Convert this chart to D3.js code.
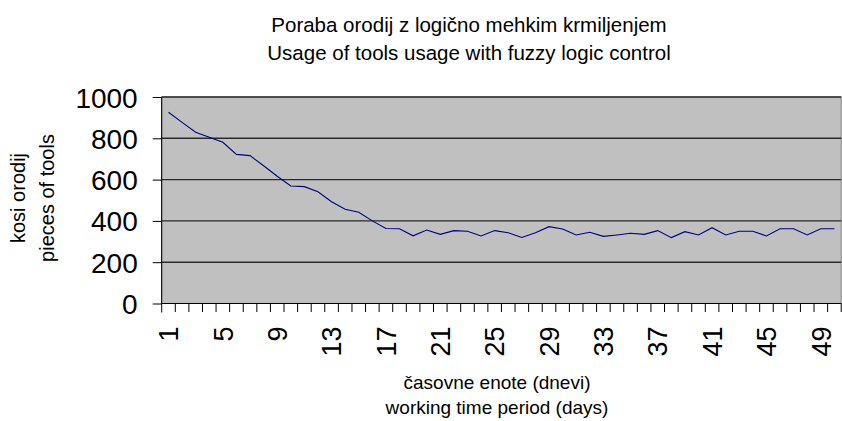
<!DOCTYPE html>
<html>
<head>
<meta charset="utf-8">
<script src="https://cdn.jsdelivr.net/npm/d3@7"></script>
<style>
    body { margin: 0; background: #fff; }
    svg text { font-family: "Liberation Sans", Arial, sans-serif; fill: #000; }
</style>
</head>
<body>
<div id="chart"></div>
<script>
// data
const days = d3.range(1, 51)
const tools = [926, 877, 829, 805, 781, 722, 716, 667, 616, 569,
    566, 541, 493, 456, 442, 400, 363, 362, 328, 356,
    335, 353, 350, 327, 353, 343, 320, 343, 372, 361,
    332, 345, 325, 332, 340, 335, 353, 319, 348, 332,
    367, 332, 350, 350, 327, 362, 362, 332, 362, 362]
const yTicks = [0, 200, 400, 600, 800, 1000]
const xLabelDays = d3.range(1, 51, 4)
const titleLines = ['Poraba orodij z logično mehkim krmiljenjem', 'Usage of tools usage with fuzzy logic control']
const xTitleLines = ['časovne enote (dnevi)', 'working time period (days)']
const yTitleLines = ['kosi orodij', 'pieces of tools']

const width = 842, height = 421
const margin = {top: 97, right: 0.8, bottom: 117.5, left: 161.7}
const plotW = width - margin.left - margin.right
const plotH = height - margin.top - margin.bottom

const svg = d3.select('#chart').append('svg')
    .attr('width', width)
    .attr('height', height)

const x = d3.scaleBand()
    .domain(days)
    .range([0, plotW])
    .paddingInner(0)
    .paddingOuter(0)
const y = d3.scaleLinear()
    .domain([0, 1000])
    .range([plotH, 0])

const g = svg.append('g')
    .attr('transform', `translate(${margin.left},${margin.top})`)

// plot background
g.append('rect')
    .attr('width', plotW)
    .attr('height', plotH)
    .attr('fill', '#c0c0c0')
    .attr('stroke', '#808080')
    .attr('stroke-width', 1)

// gridlines
g.append('g')
    .selectAll('line')
    .data(yTicks.filter(d => d > 0))
    .join('line')
    .attr('x1', 0)
    .attr('x2', plotW)
    .attr('y1', d => y(d))
    .attr('y2', d => y(d))
    .attr('stroke', '#2a2a2a')
    .attr('stroke-width', 1.4)

// data line
const line = d3.line()
    .x((d, i) => x(days[i]) + x.bandwidth() / 2)
    .y(d => y(d))
g.append('path')
    .datum(tools)
    .attr('fill', 'none')
    .attr('stroke', '#000080')
    .attr('stroke-width', 1.1)
    .attr('d', line)

// y axis
const yAxis = d3.axisLeft(y)
    .tickValues(yTicks)
    .tickFormat(d3.format('d'))
    .tickSize(9)
    .tickPadding(15)
const yG = g.append('g').call(yAxis)
yG.select('.domain').remove()
yG.selectAll('line').attr('stroke', '#000')
yG.selectAll('text')
    .style('font-size', '28px')
    .attr('dy', '0.36em')
g.append('line')
    .attr('x1', 0).attr('x2', 0)
    .attr('y1', 0).attr('y2', plotH + 9)
    .attr('stroke', '#000')

// x axis: tick marks on band boundaries
g.append('line')
    .attr('x1', 0).attr('x2', plotW)
    .attr('y1', plotH).attr('y2', plotH)
    .attr('stroke', '#000')
g.append('g')
    .selectAll('line')
    .data(days.slice(1).concat(['end']))
    .join('line')
    .attr('x1', d => d === 'end' ? plotW : x(d))
    .attr('x2', d => d === 'end' ? plotW : x(d))
    .attr('y1', plotH)
    .attr('y2', plotH + 8.5)
    .attr('stroke', '#000')

const xAxis = d3.axisBottom(x)
    .tickValues(xLabelDays)
    .tickSize(0)
const xG = g.append('g')
    .attr('transform', `translate(0,${plotH})`)
    .call(xAxis)
xG.select('.domain').remove()
xG.selectAll('text')
    .style('font-size', '27px')
    .attr('text-anchor', 'end')
    .attr('transform', 'rotate(-90)')
    .attr('x', -23)
    .attr('y', 0)
    .attr('dy', '0.36em')

// titles
svg.append('g')
    .selectAll('text')
    .data(titleLines)
    .join('text')
    .attr('x', 469)
    .attr('y', (d, i) => 32 + i * 28)
    .attr('text-anchor', 'middle')
    .style('font-size', '20.5px')
    .text(d => d)

svg.append('g')
    .selectAll('text')
    .data(xTitleLines)
    .join('text')
    .attr('x', 497)
    .attr('y', (d, i) => 389 + i * 25)
    .attr('text-anchor', 'middle')
    .style('font-size', '19px')
    .text(d => d)

svg.append('g')
    .selectAll('text')
    .data(yTitleLines)
    .join('text')
    .attr('transform', (d, i) => `translate(${25 + i * 28.5},198) rotate(-90)`)
    .attr('text-anchor', 'middle')
    .style('font-size', '20px')
    .text(d => d)
</script>
</body>
</html>
